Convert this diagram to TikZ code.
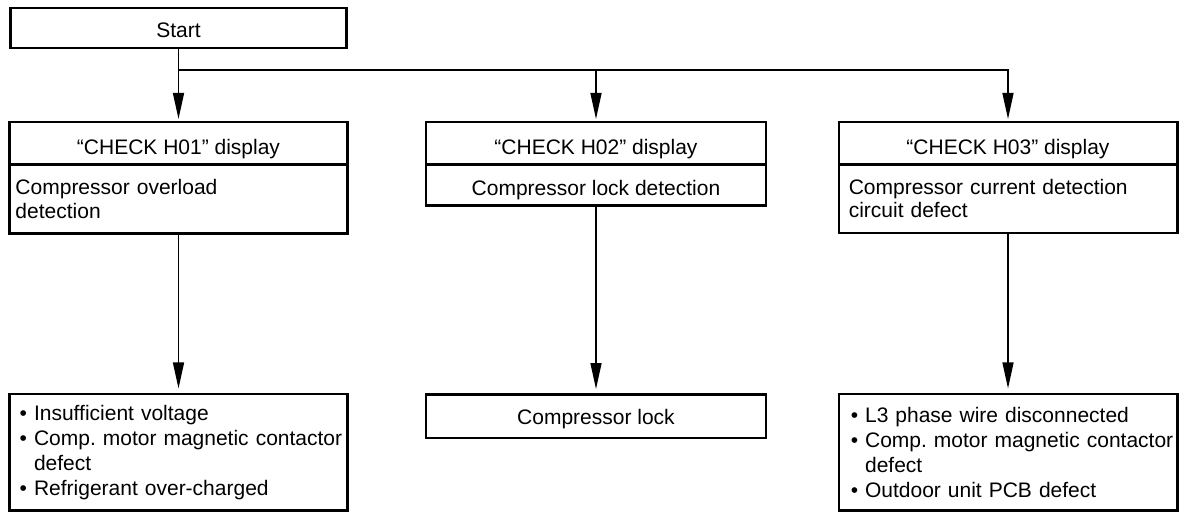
\documentclass[tikz,border=0pt]{standalone}
\usepackage{fontspec}
\setmainfont{Liberation Sans}
\usetikzlibrary{positioning,arrows.meta}

\newcommand\boxfont{\fontsize{21}{23.3}\selectfont\frenchspacing}
\newcommand\listfont{\fontsize{21}{25}\selectfont\frenchspacing}

\tikzset{
  flowbox/.style={draw, line width=2.5pt, outer sep=0pt, inner xsep=2pt, inner ysep=0pt, font=\boxfont},
  textbox/.style={flowbox, align=left, text width=#1},
  oneline/.style={text height=#1, text depth=0pt},
  flowline/.style={line width=1.4pt},
  flowarrow/.style={flowline, -{Triangle[length=26pt,width=11pt]}},
}

\begin{document}
\begin{tikzpicture}[x=1pt, y=-1pt]
  \useasboundingbox (0,0) rectangle (1185,518);

  % ---------------- start ----------------
  \node[flowbox, oneline=19.5pt, minimum width=336pt, minimum height=40pt] (start) at (178.5,28) {Start};
  \coordinate (split) at (178.5,70);

  % ---------------- the three check displays ----------------
  \node[flowbox, oneline=22pt, minimum width=338pt, minimum height=42.5pt] (h1) at (178.5,143.25) {“CHECK H01” display};
  \node[textbox=326pt, inner xsep=6pt, minimum height=69pt, below=0pt of h1] (b1)
    {\mbox{Compressor overload}\\\mbox{detection}};

  \node[flowbox, oneline=22pt, minimum width=340pt, minimum height=42.5pt] (h2) at (596,143.25) {“CHECK H02” display};
  \node[flowbox, oneline=20.5pt, minimum width=340pt, minimum height=41pt, below=0pt of h2] (b2) {Compressor lock detection};

  \node[flowbox, oneline=22pt, minimum width=338.5pt, minimum height=42.5pt] (h3) at (1008,143.25) {“CHECK H03” display};
  \node[textbox=318.5pt, inner xsep=10pt, minimum height=68.5pt, below=0pt of h3] (b3)
    {\mbox{Compressor current detection}\\\mbox{circuit defect}};

  % ---------------- causes ----------------
  \node[textbox=317.6pt, inner xsep=10.2pt, font=\listfont, minimum height=116.7pt] (c1) at (178.5,452.3)
    {\mbox{\textbullet\ Insufficient voltage}\\
     \mbox{\textbullet\ Comp. motor magnetic contactor}\\
     \mbox{\phantom{\textbullet}\ defect}\\
     \mbox{\textbullet\ Refrigerant over-charged}};
  \node[flowbox, oneline=15.6pt, minimum width=340pt, minimum height=43.3pt] (c2) at (596,416.2) {Compressor lock};
  \node[textbox=314.5pt, inner xsep=12pt, font=\listfont, minimum height=116.7pt] (c3) at (1008,452.3)
    {\mbox{\textbullet\ L3 phase wire disconnected}\\
     \mbox{\textbullet\ Comp. motor magnetic contactor}\\
     \mbox{\phantom{\textbullet}\ defect}\\
     \mbox{\textbullet\ Outdoor unit PCB defect}};

  % ---------------- connectors ----------------
  \draw[flowline] (start) -- (split);
  \draw[flowarrow, shorten >=3pt] (split) -- (h1);
  \draw[flowarrow, shorten >=3pt] (split -| h2) -- (h2);
  \draw[flowarrow, shorten >=3pt] (split) -| (h3);
  \draw[flowarrow, shorten >=5.5pt] (b1) -- (c1);
  \draw[flowarrow, shorten >=5.5pt] (b2) -- (c2);
  \draw[flowarrow, shorten >=5.5pt] (b3) -- (c3);

\end{tikzpicture}
\end{document}
